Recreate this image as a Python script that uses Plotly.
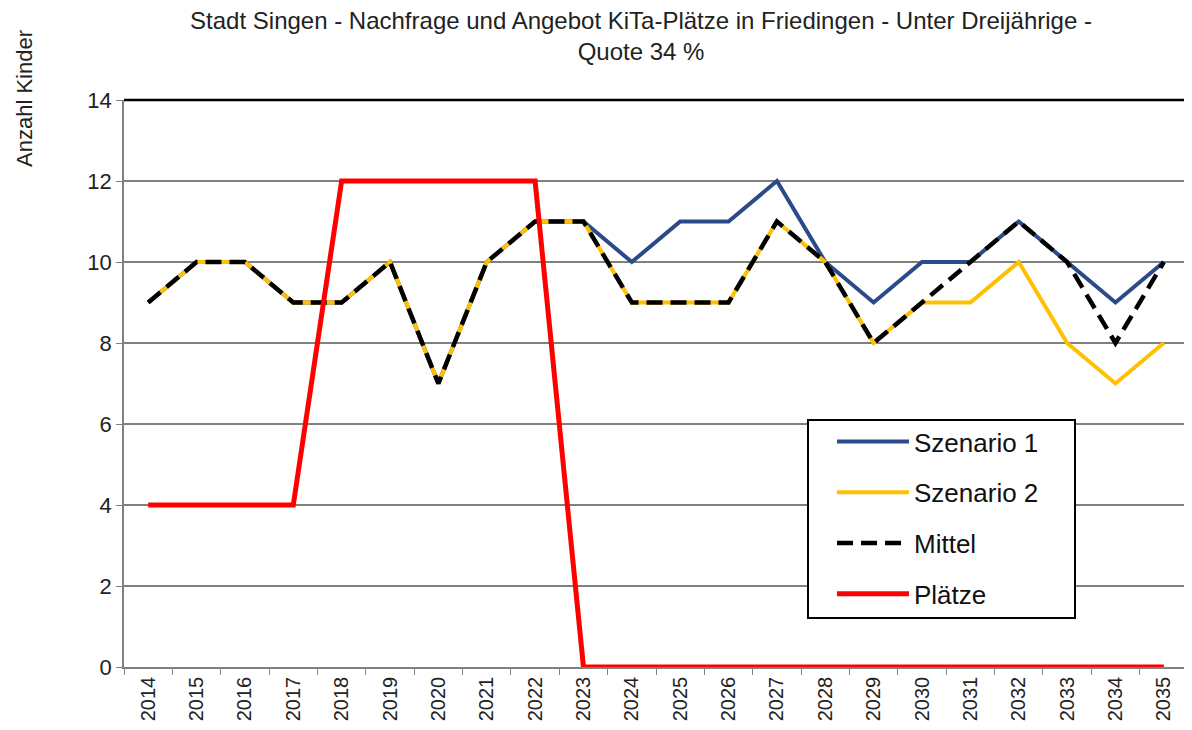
import plotly.graph_objects as go

years = [str(y) for y in range(2014, 2036)]
szenario1 = [9, 10, 10, 9, 9, 10, 7, 10, 11, 11, 10, 11, 11, 12, 10, 9, 10, 10, 11, 10, 9, 10]
szenario2 = [9, 10, 10, 9, 9, 10, 7, 10, 11, 11, 9, 9, 9, 11, 10, 8, 9, 9, 10, 8, 7, 8]
mittel = [9, 10, 10, 9, 9, 10, 7, 10, 11, 11, 9, 9, 9, 11, 10, 8, 9, 10, 11, 10, 8, 10]
plaetze = [4, 4, 4, 4, 12, 12, 12, 12, 12, 0, 0, 0, 0, 0, 0, 0, 0, 0, 0, 0, 0, 0]

# the page has an 8px body margin, so the figure is drawn 8px smaller
OFF = 8
W, H = 1192 - OFF, 730 - OFF
L, R, T, B = 124 - OFF, 4, 100 - OFF, 63
pw = W - L - R
ph = H - T - B


def px_x(x):  # page x -> paper x
    return (x - OFF - L) / pw


def px_y(y):  # page y -> paper y
    return (H - B - (y - OFF)) / ph


fig = go.Figure()
fig.add_trace(go.Scatter(x=years, y=szenario1, name="Szenario 1", mode="lines",
                         line=dict(color="#2A4A88", width=4), legendgroup="a"))
fig.add_trace(go.Scatter(x=years, y=szenario2, name="Szenario 2", mode="lines",
                         line=dict(color="#FFC000", width=4), legendgroup="b"))
fig.add_trace(go.Scatter(x=years, y=mittel, name="Mittel", mode="lines",
                         line=dict(color="#000000", width=4.5, dash="16px,8px"), legendgroup="c"))
fig.add_trace(go.Scatter(x=years, y=plaetze, name="Plätze", mode="lines",
                         line=dict(color="#FF0000", width=5), legendgroup="d"))

fig.update_layout(
    width=W, height=H,
    margin=dict(l=L, r=R, t=T, b=B),
    paper_bgcolor="white", plot_bgcolor="white",
    font=dict(family="Liberation Sans, Arial, sans-serif", color="#222222"),
    title=dict(text="Stadt Singen - Nachfrage und Angebot KiTa-Plätze in Friedingen - Unter Dreijährige -<br>Quote 34 %",
               x=px_x(641), xref="paper", xanchor="center",
               y=0.997 - 19 / H, yref="container", yanchor="top",
               font=dict(size=24, color="#222222")),
    showlegend=True,
    legend=dict(x=px_x(832), y=px_y(418), xanchor="left", yanchor="top",
                borderwidth=0, bgcolor="rgba(0,0,0,0)",
                font=dict(size=26, color="#111111"),
                traceorder="grouped", tracegroupgap=14, itemwidth=72),
    xaxis=dict(type="category", range=[-0.5, 21.5], tickangle=-90,
               tickfont=dict(size=20, color="#222222"),
               showgrid=False, showline=True, linecolor="#808080", linewidth=1.5,
               ticks="outside", tickson="boundaries", ticklen=6, tickcolor="#808080",
               automargin=False),
    yaxis=dict(range=[0, 14], dtick=2, tickfont=dict(size=22, color="#222222"),
               showgrid=True, gridcolor="#808080", gridwidth=1.5,
               showline=True, linecolor="#808080", linewidth=1.5,
               ticks="outside", ticklen=6, tickcolor="#808080", zeroline=False,
               automargin=False),
)

# top and right border of the plot area
fig.add_shape(type="line", xref="paper", yref="paper", x0=0, x1=1, y0=1, y1=1,
              line=dict(color="black", width=2.5))
fig.add_shape(type="line", xref="paper", yref="paper", x0=1, x1=1, y0=0, y1=1,
              line=dict(color="#808080", width=1.5))
# legend frame
fig.add_shape(type="rect", xref="paper", yref="paper",
              x0=px_x(808), x1=px_x(1075), y0=px_y(618), y1=px_y(420),
              line=dict(color="black", width=2), fillcolor="white", layer="above")

fig.add_annotation(text="Anzahl Kinder", textangle=-90, showarrow=False,
                   xref="paper", yref="paper",
                   x=px_x(24), y=px_y(99),
                   xanchor="center", yanchor="middle",
                   font=dict(size=22, color="#222222"))

fig.write_html("out.html")
